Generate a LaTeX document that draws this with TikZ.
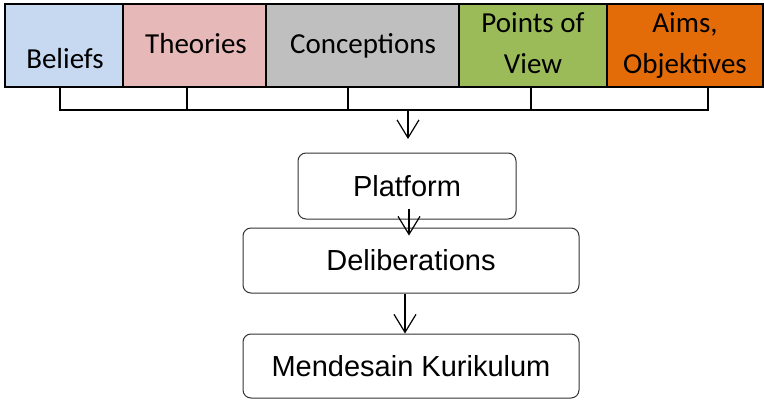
\documentclass[tikz,border=0pt]{standalone}
\usepackage{fontspec}
\setmainfont{Carlito}
\newfontfamily\arialfont{Liberation Sans}
\usetikzlibrary{arrows.meta}
\definecolor{belblue}{HTML}{C6D9F1}
\definecolor{theored}{HTML}{E6B9B8}
\definecolor{concgray}{HTML}{BFBFBF}
\definecolor{viewgreen}{HTML}{9BBB59}
\definecolor{aimorange}{HTML}{E36C09}
\tikzset{
    topbox/.style={draw=black, line width=2pt, minimum height=83pt, inner sep=0pt},
    toptext/.style={anchor=base, align=center, inner sep=0pt, font=\fontsize{29}{41}\selectfont},
    roundbox/.style={draw=black!80, line width=1pt, rounded corners=8pt, inner sep=0pt,
                     font=\arialfont\fontsize{29}{34}\selectfont},
    arr/.style={line width=1.2pt, -{Straight Barb[length=18pt, width=22pt]}},
  }
\begin{document}
\begin{tikzpicture}[x=1pt, y=1pt]
				  \useasboundingbox (0,0) rectangle (764,-400);
				  %kotak atas
				  \node[topbox, fill=belblue, minimum width=118pt] (beliefs) at (64,-45.5) {};
				  \node[topbox, fill=theored, minimum width=143pt] (theories) at (194.5,-45.5) {};
				  \node[topbox, fill=concgray, minimum width=193pt] (conceptions) at (362.5,-45.5) {};
				  \node[topbox, fill=viewgreen, minimum width=148pt] (points) at (533,-45.5) {};
				  \node[topbox, fill=aimorange, minimum width=156pt] (aims) at (685,-45.5) {};
				  \node[toptext] (tbeliefs) at (65,-68) {Beliefs};
				  \node[toptext] (ttheories) at (196,-53) {Theories};
				  \node[toptext] (tconceptions) at (363,-53) {Conceptions};
				  \node[toptext] (tpoints) at (533,-73) {Points of\\View};
				  \node[toptext] (taims) at (685,-73) {Aims,\\Objektives};
				  %kurung
				  \foreach \x in {60,187,348,531,708}
				    \draw[line width=2pt] (\x,-87) -- (\x,-110);
				  \draw[line width=2pt] (59,-110) -- (709,-110);
				  \coordinate (J) at (408,-110);
				  \coordinate (Jend) at (408,-139);
				  \draw[arr] (J) -- (Jend);
				  %kotak bawah
				  \node[roundbox, minimum width=218pt, minimum height=66pt] (platform) at (407,-186) {Platform};
				  \node[roundbox, minimum width=336pt, minimum height=65pt] (delib) at (411,-260.5) {Deliberations};
				  \node[roundbox, minimum width=336pt, minimum height=64pt] (mendesain) at (411,-366) {Mendesain Kurikulum};
				  \draw[arr] ([xshift=2pt,yshift=11pt]platform.south) -- ([xshift=-2pt,yshift=-8pt]delib.north);
				  \draw[arr] ([xshift=-6pt]delib.south) -- ([xshift=-6pt]mendesain.north);
				  \end{tikzpicture}
\end{document}
